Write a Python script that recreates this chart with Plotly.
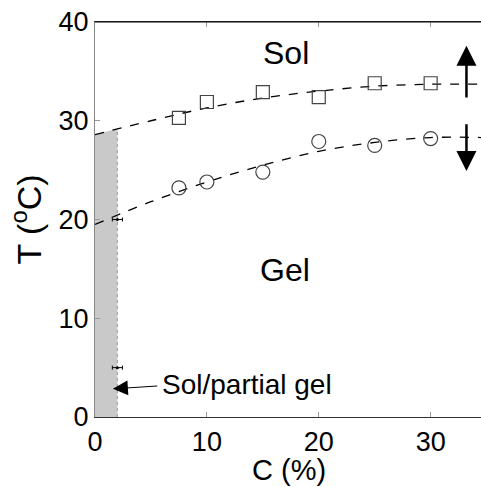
import plotly.graph_objects as go

# Measured points
conc = [7.5, 10, 15, 20, 25, 30]
t_sol = [30.3, 31.9, 32.9, 32.4, 33.8, 33.8]   # squares (gel -> sol)
t_gel = [23.2, 23.8, 24.8, 27.9, 27.5, 28.2]   # circles (sol -> gel)

# Fitted dashed curves
fit_x = [0, 5, 10, 15, 20, 25, 30, 34.5]
fit_upper = [28.6, 30.0, 31.3, 32.3, 33.0, 33.5, 33.7, 33.7]
fit_lower = [19.5, 21.8, 23.8, 25.5, 26.9, 27.8, 28.3, 28.3]

# Shaded sol/partial-gel band
band_x = [0, 2]
band_top = [28.6, 29.2]

# Low-concentration points with horizontal error bars
low_x = [2, 2]
low_t = [20, 5]
low_err = [0.45, 0.45]

font = "Liberation Sans, Arial, sans-serif"
fig = go.Figure()

fig.add_trace(go.Scatter(x=band_x, y=band_top, mode="lines", fill="tozeroy",
                         fillcolor="#c9c9c9", line=dict(width=0), showlegend=False))
fig.add_trace(go.Scatter(x=[band_x[1], band_x[1]], y=[0, band_top[1]], mode="lines",
                         line=dict(color="#999999", width=1, dash="dot"), showlegend=False))
fig.add_trace(go.Scatter(x=fit_x, y=fit_upper, mode="lines", line_shape="spline",
                         line=dict(color="black", width=1.3, dash="dash"), showlegend=False))
fig.add_trace(go.Scatter(x=fit_x, y=fit_lower, mode="lines", line_shape="spline",
                         line=dict(color="black", width=1.3, dash="dash"), showlegend=False))
fig.add_trace(go.Scatter(x=conc, y=t_sol, mode="markers",
                         marker=dict(symbol="square-open", size=13, color="#444444",
                                     line=dict(width=1.2)), showlegend=False))
fig.add_trace(go.Scatter(x=conc, y=t_gel, mode="markers",
                         marker=dict(symbol="circle-open", size=14, color="#444444",
                                     line=dict(width=1.2)), showlegend=False))
fig.add_trace(go.Scatter(x=low_x, y=low_t, mode="markers",
                         marker=dict(size=3, color="black"),
                         error_x=dict(type="data", array=low_err, color="black",
                                      thickness=1, width=2),
                         showlegend=False))

big = dict(family=font, size=32, color="black")
fig.add_annotation(x=17.1, y=36.9, text="Sol", showarrow=False, font=big)
fig.add_annotation(x=17.0, y=14.9, text="Gel", showarrow=False, font=big)
fig.add_annotation(x=1.6, y=2.85, ax=5.7, ay=3.15, axref="x", ayref="y",
                   text="", showarrow=True, arrowhead=2, arrowsize=3,
                   arrowwidth=1, arrowcolor="black")
fig.add_annotation(x=5.8, y=3.25, text="Sol/partial gel", showarrow=False,
                   xanchor="left", font=dict(family=font, size=28, color="black"))
# vertical arrows on the right
fig.add_annotation(x=33.2, y=37.6, ax=33.2, ay=32.2, axref="x", ayref="y",
                   text="", showarrow=True, arrowhead=2, arrowsize=1.6,
                   arrowwidth=2.5, arrowcolor="black")
fig.add_annotation(x=33.2, y=24.9, ax=33.2, ay=29.8, axref="x", ayref="y",
                   text="", showarrow=True, arrowhead=2, arrowsize=1.6,
                   arrowwidth=2.5, arrowcolor="black")
# x-axis title
fig.add_annotation(x=17.3, xref="x", y=0, yref="paper", yshift=-53, yanchor="middle",
                   text="C (%)", showarrow=False, font=dict(family=font, size=29, color="black"))

fig.update_layout(
    width=481, height=487,
    margin=dict(l=95, r=0, t=22, b=70),
    plot_bgcolor="white", paper_bgcolor="white",
    font=dict(family=font, size=28, color="black"),
    xaxis=dict(range=[0, 34.5], tickvals=[0, 10, 20, 30], ticks="inside",
               ticklen=5, tickcolor="#999999", showgrid=False, zeroline=False,
               showline=True, linecolor="#333333", linewidth=1.2, mirror="ticks",
               tickfont=dict(size=27)),
    yaxis=dict(range=[0, 40], tickvals=[0, 10, 20, 30, 40], ticks="inside",
               ticklen=5, tickcolor="#999999", showgrid=False, zeroline=False,
               showline=True, linecolor="#888888", linewidth=1.2,
               tickfont=dict(size=27),
               title=dict(text="T (<sup>o</sup>C)", standoff=6)),
)
fig.add_shape(type="line", xref="paper", yref="paper", x0=0, x1=1, y0=1, y1=1,
              line=dict(color="black", width=1.2))

fig.write_html("out.html")
